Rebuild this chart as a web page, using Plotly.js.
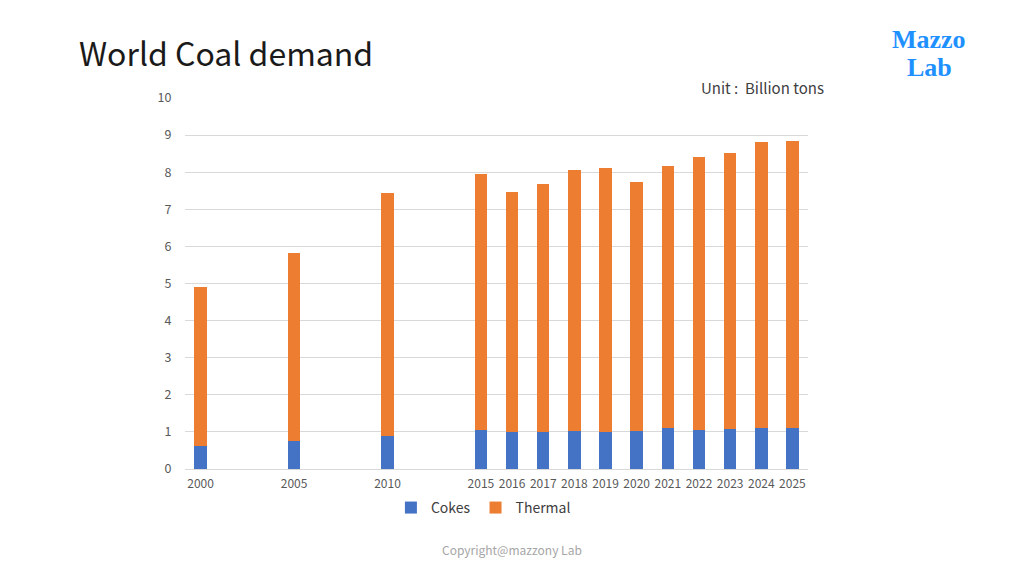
<!DOCTYPE html>
<html>
<head>
<meta charset="utf-8">
<script src="https://cdn.plot.ly/plotly-3.0.1.min.js"></script>
<style>
html,body{margin:0;padding:0;background:#fff;}
#chart{width:1024px;height:576px;}
</style>
</head>
<body>
<div id="chart"></div>
<script>
// Data (Billion tons)
var years   = ['2000','2005','2010','2015','2016','2017','2018','2019','2020','2021','2022','2023','2024','2025'];
var cokes   = [0.63, 0.76, 0.88, 1.05, 1.01, 0.99, 1.03, 0.99, 1.03, 1.10, 1.05, 1.07, 1.10, 1.10];
var thermal = [4.27, 5.06, 6.57, 6.90, 6.46, 6.70, 7.03, 7.11, 6.70, 7.06, 7.37, 7.46, 7.71, 7.74];
// Axis slot order (empty slots between 2000, 2005, 2010, 2015)
var axisSlots = ['2000',' g1',' g2','2005',' g3',' g4','2010',' g5',' g6','2015','2016','2017','2018','2019','2020','2021','2022','2023','2024','2025'];

var font = '"Noto Sans CJK JP", "Noto Sans", sans-serif';

var traces = [
  {type:'bar', name:'Cokes', x:years, y:cokes, marker:{color:'#4472C4'}},
  {type:'bar', name:'Thermal', x:years, y:thermal, marker:{color:'#ED7D31'}}
];

var layout = {
  width:1024, height:576,
  margin:{l:185, r:216, t:98, b:107, pad:0},
  paper_bgcolor:'#ffffff', plot_bgcolor:'#ffffff',
  barmode:'stack', bargap:0.6,
  showlegend:true,
  font:{family:font, color:'#595959', size:12},
  xaxis:{
    type:'category', categoryorder:'array', categoryarray:axisSlots,
    range:[-0.5, axisSlots.length-0.5],
    tickvals:years, ticktext:years,
    showgrid:false, showline:true, linecolor:'#d9d9d9', linewidth:1,
    ticks:'outside', ticklen:4, tickcolor:'rgba(0,0,0,0)',
    tickfont:{family:font, size:12, color:'#595959'},
    fixedrange:true
  },
  yaxis:{
    range:[0,10], dtick:1, tick0:0,
    showgrid:true, gridcolor:'#d9d9d9', gridwidth:1,
    zeroline:true, zerolinecolor:'#d9d9d9', zerolinewidth:1,
    showline:false,
    ticks:'outside', ticklen:10, tickcolor:'rgba(0,0,0,0)',
    tickfont:{family:font, size:12.5, color:'#595959'},
    fixedrange:true
  },
  legend:{
    orientation:'h', x:0.479, xanchor:'center', y:-0.105, yanchor:'middle',
    font:{family:font, size:14, color:'#404040'},
    itemwidth:30, traceorder:'normal'
  },
  annotations:[
    {text:'World Coal demand', xref:'paper', yref:'paper', x:(77-185)/623, y:(469-52)/371,
     xanchor:'left', yanchor:'middle', showarrow:false,
     font:{family:font, size:32, color:'#1a1a1a'}},
    {text:'Unit :  Billion tons', xref:'paper', yref:'paper', x:(826-185)/623, y:(469-87)/371,
     xanchor:'right', yanchor:'middle', showarrow:false,
     font:{family:font, size:15, color:'#404040'}},
    {text:'Copyright@mazzony Lab', xref:'paper', yref:'paper', x:(512-185)/623, y:(469-549)/371,
     xanchor:'center', yanchor:'middle', showarrow:false,
     font:{family:font, size:12, color:'#a6a6a6'}},
    {text:'<b>Mazzo</b>', xref:'paper', yref:'paper', x:(929-185)/623, y:(469-39)/371,
     xanchor:'center', yanchor:'middle', showarrow:false,
     font:{family:'"Liberation Serif", "DejaVu Serif", serif', size:26, color:'#1E90FF'}},
    {text:'<b>Lab</b>', xref:'paper', yref:'paper', x:(929-185)/623, y:(469-67)/371,
     xanchor:'center', yanchor:'middle', showarrow:false,
     font:{family:'"Liberation Serif", "DejaVu Serif", serif', size:26, color:'#1E90FF'}}
  ]
};

Plotly.newPlot('chart', traces, layout, {displayModeBar:false, staticPlot:true});
</script>
</body>
</html>
